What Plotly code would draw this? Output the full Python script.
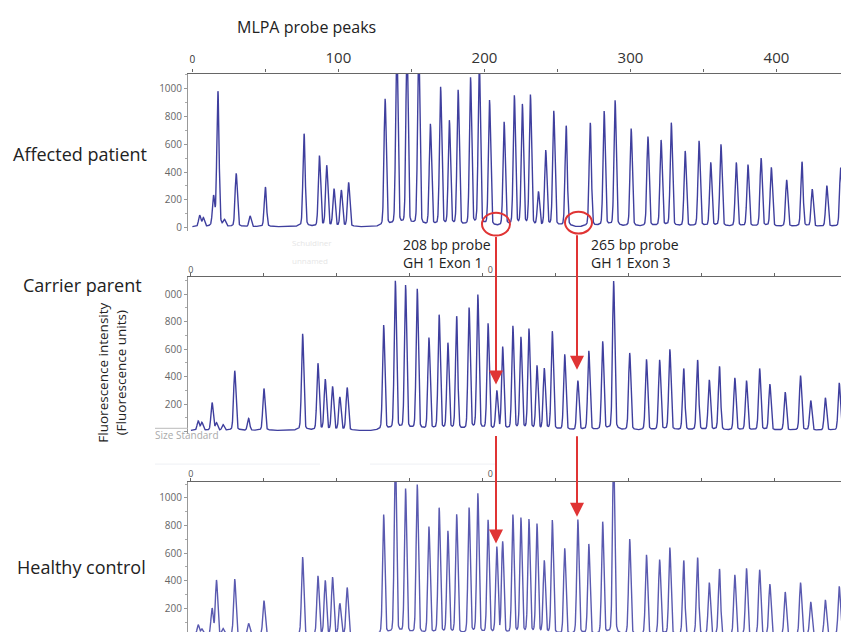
import numpy as np
import plotly.graph_objects as go

# ---- data: probe peak positions (bp) and peak heights (fluorescence units) ----
probe_bp = [5, 7.5, 14.5, 17.5, 22, 30, 39.5, 50, 76.5, 87, 92, 97, 102, 107, 132, 140, 147, 155,
            163, 170, 176, 182, 190.5, 196.5, 203.5, 209.5, 213.5, 220.5, 226, 231.5, 237, 242,
            247.5, 256, 265, 272.5, 282, 289.5, 300.5, 312, 321, 328, 337.5, 347, 355, 362, 372.5,
            380.5, 389.5, 396.5, 407, 417.5, 424.5, 434.5, 444]

affected_patient = [78, 60, 200, 935, 40, 370, 75, 275, 645, 490, 420, 258, 250, 305, 885, 1300, 1300, 1300,
                    710, 965, 730, 945, 1030, 1150, 875, 0, 725, 905, 840, 910, 235, 525,
                    800, 700, 0, 720, 800, 875, 680, 625, 600, 720, 525, 595, 445, 570, 445,
                    430, 475, 410, 325, 450, 260, 285, 410]

carrier_parent = [65, 55, 195, 50, 40, 420, 85, 295, 680, 470, 355, 305, 230, 300, 740, 1050, 1020, 995,
                  650, 810, 610, 800, 860, 950, 750, 270, 585, 730, 650, 710, 450, 430,
                  695, 535, 350, 560, 625, 1050, 545, 500, 495, 570, 435, 495, 355, 450, 370,
                  350, 435, 325, 270, 385, 210, 230, 335]

healthy_control = [70, 40, 180, 380, 40, 390, 80, 240, 545, 410, 375, 400, 215, 330, 840, 1300, 1020, 1050,
                   755, 885, 720, 840, 885, 985, 800, 605, 645, 835, 810, 800, 770, 510,
                   800, 605, 805, 635, 790, 1300, 670, 560, 525, 610, 520, 540, 365, 460, 420,
                   465, 455, 355, 300, 365, 230, 245, 340]

panel_names = ["Affected patient", "Carrier parent", "Healthy control"]
top_tick_vals = [0, 100, 200, 300, 400]
top_tick_text = ["0", "100", "200", "300", "400"]
y_tick_vals = [0, 200, 400, 600, 800, 1000]

# the page body has an 8px margin, so the figure covers 8..849 x 8..636 of the window
OFF = 8
W, H = 849 - OFF, 636 - OFF
def X(px): return (px - OFF) / W
def Y(py): return 1 - (py - OFF) / H

grid = np.arange(0, 452, 0.1)
def trace_curve(heights, base=8.0, s=0.75):
    p = np.array(probe_bp)[:, None]
    h = np.array(heights, dtype=float)[:, None]
    g = np.exp(-(grid[None, :] - p) ** 2 / (2 * s ** 2))
    skirt = np.exp(-(grid[None, :] - p) ** 2 / (2 * 3.0 ** 2))
    return base + (h * g).sum(0) + (0.035 * h * skirt).sum(0)

fig = go.Figure()
colors = ["#3f3f9e", "#3f3f9e", "#5a5ab0"]
series = [affected_patient, carrier_parent, healthy_control]
for i, (vals, c) in enumerate(zip(series, colors)):
    fig.add_trace(go.Scatter(x=grid, y=trace_curve(vals), mode="lines",
                             line=dict(color=c, width=1.4), xaxis="x" if i == 0 else f"x{i+1}",
                             yaxis="y" if i == 0 else f"y{i+1}", showlegend=False, hoverinfo="skip"))

doms = [(74, 232), (279, 437), (485, 636)]
yranges = [[-20, 1107], [-20, 1123], [29, 1115]]
xranges = [[-3, 449.7], [-2, 450.7], [-2, 450.7]]
font = "Open Sans, Lato, sans-serif"

layout = dict(width=W, height=H, margin=dict(l=0, r=0, t=0, b=0),
              paper_bgcolor="white", plot_bgcolor="white", showlegend=False,
              font=dict(family=font, color="#333"))
for i in range(3):
    xs = "" if i == 0 else str(i + 1)
    if i == 0:
        tv, tt = top_tick_vals, ["<span style='font-size:10px'>0</span>"] + top_tick_text[1:]
        tfont = dict(size=15, color="#333", family=font)
        stand = 3
    else:
        tv, tt = [0, 205], ["0", "0"]
        tfont = dict(size=9, color="#555", family=font)
        stand = 0
    layout["xaxis" + xs] = dict(domain=[X(188), 1], range=xranges[i], anchor="y" + xs, side="top",
                                 showline=True, linecolor="#666", linewidth=1.2, showgrid=False,
                                 zeroline=False, tickvals=tv, ticktext=tt, tickfont=tfont,
                                 ticks="", ticklen=3, tickcolor="#666", ticklabelstandoff=stand,
                                 minor=dict(dtick=50, tick0=0, ticks="outside", ticklen=3, tickcolor="#666"))
    ytt = ["0", "200", "400", "600", "800", "1000"]
    if i == 1:
        ytt = ["", "200", "400", "600", "800", "000"]
    layout["yaxis" + xs] = dict(domain=[Y(doms[i][1]), min(1, Y(doms[i][0]))], range=yranges[i], anchor="x" + xs,
                                 showline=True, linecolor="#999", linewidth=1, showgrid=False, zeroline=False,
                                 tickvals=y_tick_vals, ticktext=ytt, tickfont=dict(size=10, color="#666", family=font),
                                 ticks="outside", ticklen=3, tickcolor="#999", ticklabelstandoff=0,
                                 minor=dict(dtick=100, ticks="outside", ticklen=2, tickcolor="#aaa"))
fig.update_layout(**layout)

ann = []
def text(px, py, s, size=13, color="#222", anchor="left", angle=0):
    ann.append(dict(x=X(px), y=Y(py), xref="paper", yref="paper", text=s, showarrow=False,
                    xanchor=anchor, yanchor="middle", textangle=angle,
                    font=dict(size=size, color=color, family=font)))

text(306, 27, "MLPA probe peaks", size=16, anchor="center")
text(11, 155, panel_names[0], size=18)
text(21, 287, panel_names[1], size=18)
text(15, 571, panel_names[2], size=18)
text(112, 375, "Fluorescence intensity<br>(Fluorescence units)", size=13.5, anchor="center", angle=-90)
text(401, 246, "208 bp probe", size=14)
text(401, 264, "GH 1 Exon 1", size=14)
text(589, 246, "265 bp probe", size=14)
text(589, 264, "GH 1 Exon 3", size=14)
text(153, 438, "Size Standard", size=10, color="#aaa")
text(290, 244, "Schuldiner", size=8, color="#e6e6e6")
text(290, 262, "unnamed", size=8, color="#e6e6e6")

red = "#e03434"
for (px, tip, tail) in [(496, 387, 238), (496, 547, 438), (577, 372, 236), (577, 520, 438)]:
    ann.append(dict(x=X(px), y=Y(tip), xref="paper", yref="paper", ax=0, ay=-(tip - tail),
                    axref="pixel", ayref="pixel", text="", showarrow=True, arrowhead=2,
                    arrowsize=1.4, arrowwidth=2, arrowcolor=red))
fig.update_layout(annotations=ann)

shapes = [
    dict(type="circle", xref="paper", yref="paper", x0=X(482), x1=X(510), y0=Y(237), y1=Y(214),
         line=dict(color=red, width=2)),
    dict(type="circle", xref="paper", yref="paper", x0=X(565), x1=X(592), y0=Y(235), y1=Y(213),
         line=dict(color=red, width=2)),
    dict(type="line", xref="paper", yref="paper", x0=X(155), x1=X(188), y0=Y(431), y1=Y(431),
         line=dict(color="#bbb", width=1)),
    dict(type="line", xref="paper", yref="paper", x0=X(155), x1=X(320), y0=Y(467), y1=Y(467),
         line=dict(color="#eef0f4", width=1)),
    dict(type="line", xref="paper", yref="paper", x0=X(370), x1=X(495), y0=Y(467), y1=Y(467),
         line=dict(color="#eef0f4", width=1)),
]
fig.update_layout(shapes=shapes)

fig.write_html("out.html")
